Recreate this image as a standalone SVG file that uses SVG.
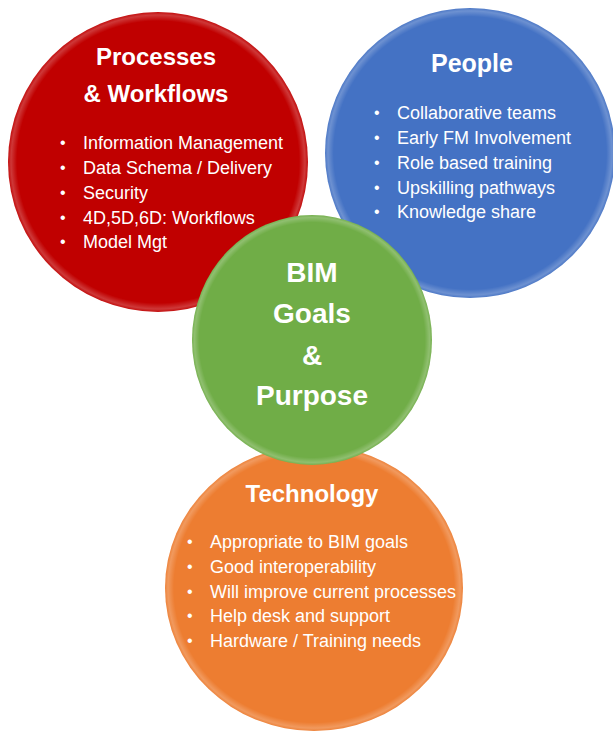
<svg xmlns="http://www.w3.org/2000/svg" width="613" height="732" viewBox="0 0 613 732">
  <style>
    .title { font-family: "Liberation Sans", Arial, sans-serif; font-weight: bold; fill: #ffffff; text-anchor: middle; }
    .item { font-family: "Liberation Sans", Arial, sans-serif; font-size: 18px; fill: #ffffff; }
    .bul { font-family: "Liberation Sans", Arial, sans-serif; font-size: 16px; fill: #ffffff; }
    .rim { fill: url(#rim); }
  </style>
  <defs>
    <radialGradient id="rim" cx="0.5" cy="0.5" r="0.5">
      <stop offset="0" stop-color="#ffffff" stop-opacity="0"/>
      <stop offset="0.94" stop-color="#ffffff" stop-opacity="0"/>
      <stop offset="0.98" stop-color="#ffffff" stop-opacity="0.22"/>
      <stop offset="1" stop-color="#ffffff" stop-opacity="0.05"/>
    </radialGradient>
  </defs>
  <rect width="613" height="732" fill="#ffffff"/>

  <g id="processes">
    <circle cx="158" cy="162" r="150" fill="#C00000"/>
    <circle cx="158" cy="162" r="150" class="rim"/>
    <text class="title" x="156" y="65" font-size="24">Processes</text>
    <text class="title" x="156" y="102" font-size="24">&amp; Workflows</text>
    <g class="bul"><text x="60" y="148">•</text><text x="60" y="173">•</text><text x="60" y="198">•</text><text x="60" y="223">•</text><text x="60" y="247">•</text></g>
    <text class="item" x="83" y="149">Information Management</text>
    <text class="item" x="83" y="174">Data Schema / Delivery</text>
    <text class="item" x="83" y="199">Security</text>
    <text class="item" x="83" y="224">4D,5D,6D: Workflows</text>
    <text class="item" x="83" y="248">Model Mgt</text>
  </g>

  <g id="people">
    <circle cx="470" cy="153" r="145" fill="#4472C4"/>
    <circle cx="470" cy="153" r="145" class="rim"/>
    <text class="title" x="472" y="72" font-size="25">People</text>
    <g class="bul"><text x="374" y="118">•</text><text x="374" y="143">•</text><text x="374" y="168">•</text><text x="374" y="193">•</text><text x="374" y="217">•</text></g>
    <text class="item" x="397" y="119">Collaborative teams</text>
    <text class="item" x="397" y="144">Early FM Involvement</text>
    <text class="item" x="397" y="169">Role based training</text>
    <text class="item" x="397" y="194">Upskilling pathways</text>
    <text class="item" x="397" y="218">Knowledge share</text>
  </g>

  <g id="technology">
    <ellipse cx="314" cy="588" rx="149" ry="143" fill="#ED7D31"/>
    <ellipse cx="314" cy="588" rx="149" ry="143" class="rim"/>
    <text class="title" x="312" y="502" font-size="24">Technology</text>
    <g class="bul"><text x="187" y="547">•</text><text x="187" y="572">•</text><text x="187" y="597">•</text><text x="187" y="621">•</text><text x="187" y="646">•</text></g>
    <text class="item" x="210" y="548">Appropriate to BIM goals</text>
    <text class="item" x="210" y="573">Good interoperability</text>
    <text class="item" x="210" y="598">Will improve current processes</text>
    <text class="item" x="210" y="622">Help desk and support</text>
    <text class="item" x="210" y="647">Hardware / Training needs</text>
  </g>

  <g id="bim-goals">
    <ellipse cx="312" cy="340" rx="120" ry="125" fill="#70AD47"/>
    <ellipse cx="312" cy="340" rx="120" ry="125" class="rim"/>
    <text class="title" x="312" y="282" font-size="28">BIM</text>
    <text class="title" x="312" y="323" font-size="28">Goals</text>
    <text class="title" x="312" y="365" font-size="28">&amp;</text>
    <text class="title" x="312" y="405" font-size="28">Purpose</text>
  </g>

  <g id="connectors"></g>
</svg>
